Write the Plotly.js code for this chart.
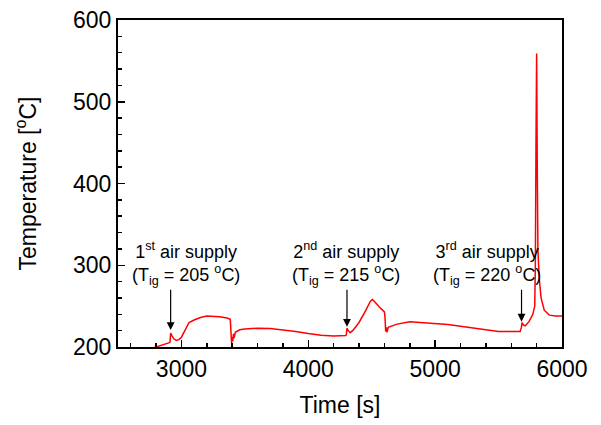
<!DOCTYPE html>
<html>
<head>
<meta charset="utf-8">
<script src="https://cdn.plot.ly/plotly-3.0.1.min.js"></script>
<style>html,body{margin:0;padding:0;background:#fff}#chart{width:601px;height:425px}</style>
</head>
<body>
<div id="chart"></div>
<script>
var timeS = [2780,2850,2900,2910,2915,2925,2940,2960,2980,3000,3030,3060,3100,3150,3200,3250,3300,3360,3385,3390,3395,3400,3405,3410,3415,3425,3440,3460,3500,3600,3700,3800,3900,4000,4100,4200,4295,4300,4305,4315,4330,4350,4400,4450,4490,4505,4520,4560,4600,4605,4610,4615,4620,4630,4650,4700,4800,4900,5000,5100,5200,5300,5400,5500,5600,5670,5680,5685,5695,5710,5740,5770,5785,5790,5795,5800,5805,5810,5820,5835,5860,5900,5950,6000];
var tempC = [199,202,205,206,217,214,210,208,209,212,222,230,233,236,238,237.5,237,235.5,234,220,205,212,207,216,211,218,219,221,222,223,222.5,221,219,216.5,214.5,213.5,214,215,223,220,217.5,220,230,244,256,258,256,249,243,236,219,224,218,224,225,228,231,230,229,227.5,225.5,223,221,219,218.5,219,224,230,227,226,231,240,250,300,450,559,420,320,285,260,245,239,238,238];

var labelLine1 = ["1<sup>st</sup> air supply","2<sup>nd</sup> air supply","3<sup>rd</sup> air supply"];
var labelLine2 = ["(T<sub>ig</sub> = 205 <sup>o</sup>C)","(T<sub>ig</sub> = 215 <sup>o</sup>C)","(T<sub>ig</sub> = 220 <sup>o</sup>C)"];
var labelX = [3035,4300,5405];
var arrowTipX = [2915,4305,5681];
var arrowTipY = [220.8,224.8,231];
var arrowTailY = 272;
var labelY = 302;

var font = "Liberation Sans, Arial, sans-serif";
var ann = [];
for (var i = 0; i < 3; i++) {
  ann.push({x: labelX[i], y: labelY, xref:'x', yref:'y', text: labelLine1[i] + '<br>' + labelLine2[i], align:'center', showarrow:false, font:{family:font,size:18,color:'#000'}});
  ann.push({x: arrowTipX[i], y: arrowTipY[i], xref:'x', yref:'y', ax: arrowTipX[i], ay: arrowTailY, axref:'x', ayref:'y', text:'', showarrow:true, arrowhead:2, arrowsize:1.3, arrowwidth:1.2, arrowcolor:'#000', standoff:0});
}

var data = [{x: timeS, y: tempC, type:'scatter', mode:'lines', line:{color:'#ff0000', width:1.5}, hoverinfo:'skip'}];

var layout = {
  width:601, height:425,
  margin:{l:118, r:39, t:20, b:78},
  paper_bgcolor:'#fff', plot_bgcolor:'#fff',
  showlegend:false,
  font:{family:font, color:'#000'},
  xaxis:{range:[2500,6000], dtick:1000, tick0:0, ticks:'inside', ticklen:7, tickwidth:1.5, tickcolor:'#000',
    minor:{dtick:200, tick0:0, ticks:'inside', ticklen:4, tickwidth:1.5, tickcolor:'#000'},
    showline:true, linecolor:'#000', linewidth:2, mirror:true, showgrid:false, zeroline:false,
    tickfont:{family:font, size:23, color:'#000'},
    title:{text:'Time [s]', font:{family:font, size:23, color:'#000'}, standoff:16}},
  yaxis:{range:[200,600], dtick:100, tick0:0, ticks:'inside', ticklen:7, tickwidth:1.5, tickcolor:'#000',
    minor:{dtick:20, tick0:0, ticks:'inside', ticklen:4, tickwidth:1.5, tickcolor:'#000'},
    showline:true, linecolor:'#000', linewidth:2, mirror:true, showgrid:false, zeroline:false,
    tickfont:{family:font, size:23, color:'#000'},
    title:{text:'Temperature [<sup>o</sup>C]', font:{family:font, size:23, color:'#000'}, standoff:30}},
  annotations: ann
};
Plotly.newPlot('chart', data, layout, {displayModeBar:false, staticPlot:true});
</script>
</body>
</html>
